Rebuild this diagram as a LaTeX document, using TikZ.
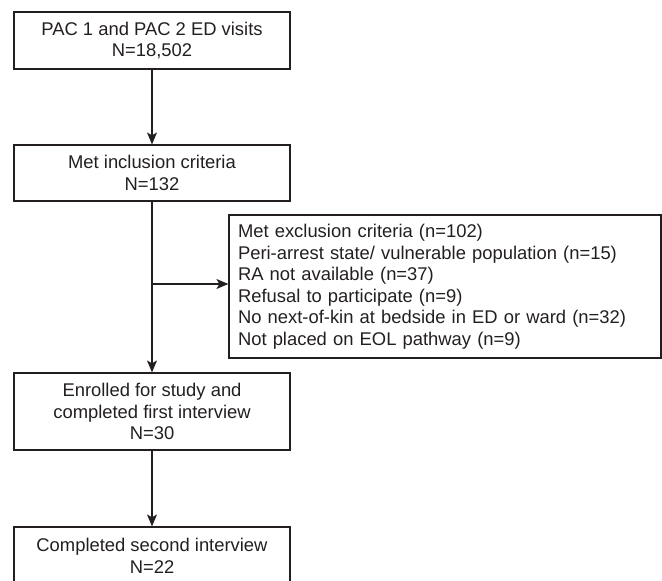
\documentclass[tikz,border=0pt]{standalone}
\usepackage{fontspec}
\setmainfont{Liberation Sans}
\usetikzlibrary{arrows.meta}
\definecolor{ink}{HTML}{231F20}
\begin{document}
\begin{tikzpicture}[x=1pt,y=-1pt,
  box/.style={draw=ink,line width=1.2pt,text=ink,align=center,minimum width=276pt,
    font=\fontsize{18.4}{21.5}\selectfont,inner sep=0pt},
  exbox/.style={draw=ink,line width=1.2pt,text=ink,align=left,text width=414pt,
    inner xsep=9pt,inner ysep=0pt,minimum height=143pt,
    font=\fontsize{18.4}{21.5}\selectfont},
  arr/.style={draw=ink,line width=1.2pt,-{Stealth[length=12pt,width=10pt,inset=3pt]}}]
\useasboundingbox (0,0) rectangle (662,581);
\begin{scope}
\clip (0,0) rectangle (662,581);
\node[box,minimum height=57pt] (b1) at (152,40.5) {PAC 1 and PAC 2 ED visits\\N=18,502};
\node[box,minimum height=56pt] (b2) at (152,173) {Met inclusion criteria\\N=132};
\node[box,minimum height=77pt] (b3) at (152,411.5) {Enrolled for study and\\completed first interview\\N=30};
\node[box,minimum height=58pt] (b4) at (152,556) {Completed second interview\\N=22};
\node[exbox] (ex) at (445,286.5) {Met exclusion criteria (n=102)\\Peri-arrest state/ vulnerable population (n=15)\\RA not available (n=37)\\Refusal to participate (n=9)\\No next-of-kin at bedside in ED or ward (n=32)\\Not placed on EOL pathway (n=9)};
\coordinate (j) at (152,284);
\draw[arr] (b1) -- (b2);
\draw[arr] (b2) -- (b3);
\draw[arr] (j) -- (ex.west |- j);
\draw[arr] (b3) -- (b4);
\end{scope}
\end{tikzpicture}
\end{document}
